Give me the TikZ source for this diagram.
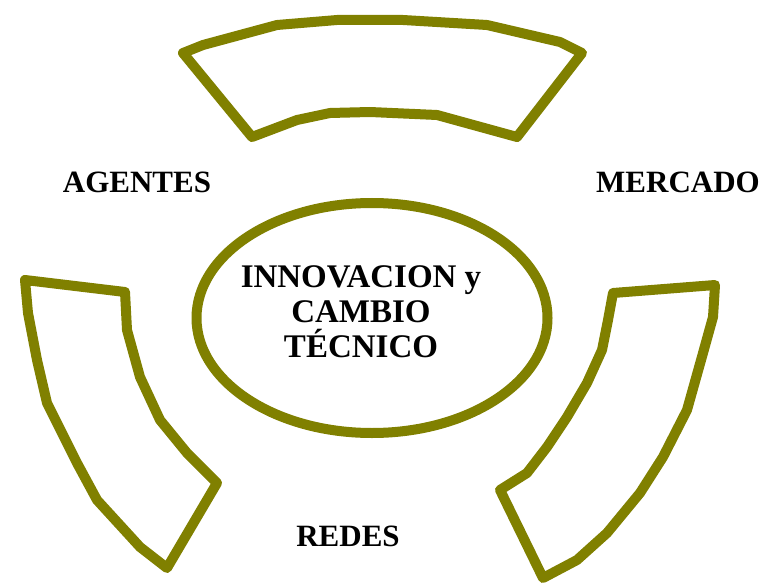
\documentclass[tikz,border=0pt]{standalone}
\usepackage{fontspec}
\setmainfont{Liberation Serif}
\usetikzlibrary{positioning,shapes.geometric}

\definecolor{olivo}{HTML}{808000}

\begin{document}
\begin{tikzpicture}[x=1pt,y=-1pt,
  band/.style={draw=olivo,line width=10pt,line join=round,fill=white},
  core/.style={band,ellipse,minimum width=351pt,minimum height=230pt,
    inner sep=0pt},
  tag/.style={font=\fontsize{31}{35}\selectfont\bfseries,anchor=base,inner sep=0pt}]
  \useasboundingbox (0,0) rectangle (775,585);

  % the three bands
  \draw[band] (183,53) -- (203,45) -- (277,25) -- (337,20) -- (403,20)
    -- (487,25) -- (560,42) -- (582,53) -- (517,137) -- (437,115)
    -- (370,112) -- (330,113) -- (297,120) -- (252,137) -- cycle;
  \draw[band] (25,280) -- (125,292) -- (127,330) -- (140,377) -- (160,420)
    -- (187,453) -- (217,483) -- (167,568) -- (140,547) -- (97,500)
    -- (77,463) -- (47,403) -- (37,360) -- (28,313) -- cycle;
  \draw[band] (613,293) -- (715,285) -- (713,317) -- (703,353) -- (687,410)
    -- (663,457) -- (640,493) -- (607,533) -- (577,560) -- (543,578)
    -- (500,490) -- (527,473) -- (547,447) -- (567,417) -- (587,383)
    -- (602,350) -- (608,320) -- cycle;

  % centre
  \node[core] (centro) at (372,318) {};
  \node[tag,align=center,font=\fontsize{33}{35}\selectfont\bfseries]
    (innov) at (361,357) {INNOVACION y\\CAMBIO\\TÉCNICO};

  % labels
  \node[tag] (agentes) at (137,193) {AGENTES};
  \node[tag] (mercado) at (678,193) {MERCADO};
  \node[tag] (redes) at (348,546) {REDES};
\end{tikzpicture}
\end{document}
